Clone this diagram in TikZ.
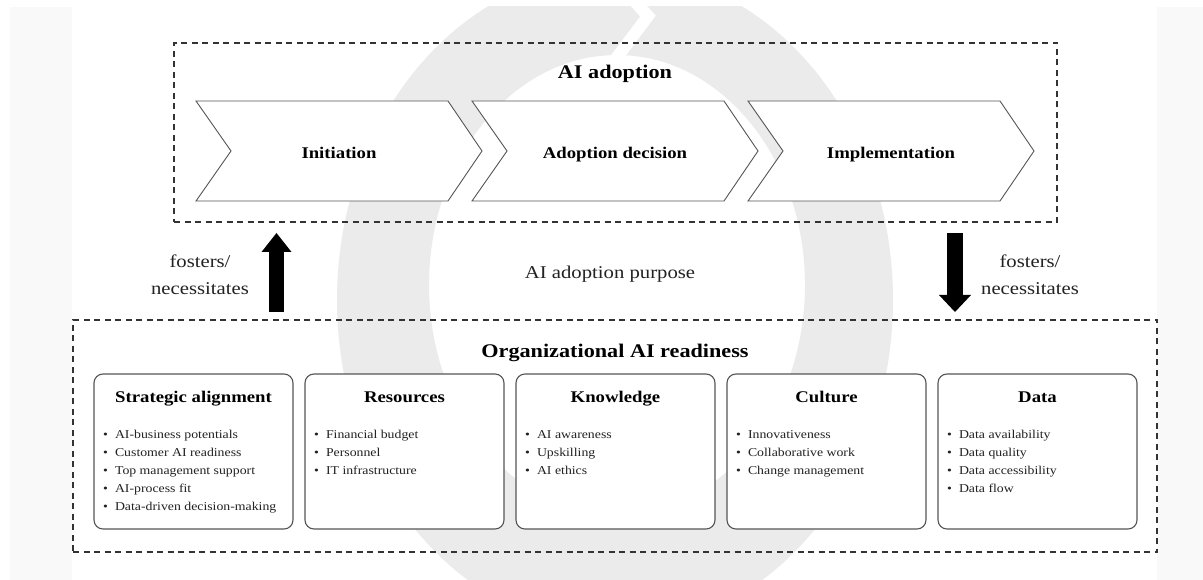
\documentclass[tikz,border=0pt]{standalone}
\usepackage{fontspec}
\setmainfont{Liberation Serif}[FakeStretch=1.15]
\usetikzlibrary{arrows.meta}
\definecolor{ringgrey}{HTML}{EBEBEB}
\definecolor{framegrey}{HTML}{F9F9F9}
\definecolor{ink}{HTML}{222222}
\definecolor{edgegrey}{HTML}{555555}
\definecolor{dashgrey}{HTML}{333333}
\begin{document}
\begin{tikzpicture}[x=1pt,y=-1pt,
  dashbox/.style={draw=dashgrey, line width=1.6pt, dash pattern=on 6pt off 4.5pt, inner sep=0pt},
  chev/.style={draw=edgegrey, fill=white, line width=0.9pt, line join=miter},
  card/.style={draw=edgegrey, fill=white, line width=1.1pt, rounded corners=9pt, inner sep=0pt},
  bigtitle/.style={font=\bfseries\fontsize{19.3}{23}\selectfont, text=black, inner sep=0pt},
  steplabel/.style={font=\bfseries\fontsize{16.3}{20}\selectfont, text=black, inner sep=0pt},
  cardtitle/.style={font=\bfseries\fontsize{16.3}{20}\selectfont, text=black, inner sep=0pt, anchor=base},
  itemlist/.style={font=\fontsize{12}{18}\selectfont, text=ink, inner sep=0pt, anchor=base west},
  plaintext/.style={font=\fontsize{18}{27}\selectfont, text=ink, inner sep=0pt, align=center},
  bigarrow/.style={draw=black, line width=15pt},
]
\useasboundingbox (0,0) rectangle (1203,580);
% background
\fill[framegrey] (10,7) rectangle (1203,580);
\fill[white] (72,7) rectangle (1157,580);
\begin{scope}
  \clip (72,7) rectangle (1157,580);
  \fill[ringgrey, even odd rule] (615,300) ellipse [x radius=278, y radius=330]
                                 (617,285) ellipse [x radius=188, y radius=230];
  \draw[white, line width=12pt, line join=miter] (626,-8) -- (648,16) -- (612,64);
\end{scope}

% AI adoption box
\node[dashbox, minimum width=883pt, minimum height=179pt] (adopt) at (615.5,132.5) {};
\node[bigtitle, anchor=base] (adoptT) at (615,79) {AI adoption};

\foreach \x/\n/\t in {196/init/Initiation, 472/adec/Adoption decision, 748/impl/Implementation} {
  \draw[chev] (\x,101) -- (\x+252,101) -- (\x+286,151) -- (\x+252,201) -- (\x,201) -- (\x+35,151) -- cycle;
  \node[steplabel, anchor=base] (\n) at (\x+143,159) {\t};
}

% readiness box
\node[dashbox, minimum width=1084pt, minimum height=232pt] (ready) at (615,436) {};
\node[bigtitle, anchor=base] (readyT) at (615,357) {Organizational AI readiness};

% arrows and labels
\coordinate (upS) at (276.5,312);
\coordinate (upE) at (276.5,233);
\draw[bigarrow, -{Triangle[width=30pt,length=19pt,line width=0pt]}] (upS) -- (upE);
\coordinate (dnS) at (955,233);
\coordinate (dnE) at (955,312);
\draw[bigarrow, line width=16pt, -{Triangle[width=32pt,length=17pt,line width=0pt]}] (dnS) -- (dnE);

\node[plaintext] (fosL) at (200,275) {fosters/\\necessitates};
\node[plaintext] (fosR) at (1030,275) {fosters/\\necessitates};
\node[plaintext, anchor=base] (purpose) at (610,279) {AI adoption purpose};

% cards
\node[card, minimum width=199pt, minimum height=155pt] (c1) at (193.5,451.5) {};
\node[card, minimum width=199pt, minimum height=155pt] (c2) at (404.5,451.5) {};
\node[card, minimum width=199pt, minimum height=155pt] (c3) at (615.5,451.5) {};
\node[card, minimum width=199pt, minimum height=155pt] (c4) at (826.5,451.5) {};
\node[card, minimum width=199pt, minimum height=155pt] (c5) at (1037.5,451.5) {};

\node[cardtitle] (t1) at (193.5,402) {Strategic alignment};
\node[cardtitle] (t2) at (404.5,402) {Resources};
\node[cardtitle] (t3) at (615.5,402) {Knowledge};
\node[cardtitle] (t4) at (826.5,402) {Culture};
\node[cardtitle] (t5) at (1037.5,402) {Data};

\node[itemlist] (l1) at (103,438) {\begin{tabular}[t]{@{}l@{\hspace{7pt}}l@{}}
  • & AI-business potentials\\ • & Customer AI readiness\\ • & Top management support\\
  • & AI-process fit\\ • & Data-driven decision-making\end{tabular}};
\node[itemlist] (l2) at (314,438) {\begin{tabular}[t]{@{}l@{\hspace{7pt}}l@{}}
  • & Financial budget\\ • & Personnel\\ • & IT infrastructure\end{tabular}};
\node[itemlist] (l3) at (525,438) {\begin{tabular}[t]{@{}l@{\hspace{7pt}}l@{}}
  • & AI awareness\\ • & Upskilling\\ • & AI ethics\end{tabular}};
\node[itemlist] (l4) at (736,438) {\begin{tabular}[t]{@{}l@{\hspace{7pt}}l@{}}
  • & Innovativeness\\ • & Collaborative work\\ • & Change management\end{tabular}};
\node[itemlist] (l5) at (947,438) {\begin{tabular}[t]{@{}l@{\hspace{7pt}}l@{}}
  • & Data availability\\ • & Data quality\\ • & Data accessibility\\ • & Data flow\end{tabular}};
\end{tikzpicture}
\end{document}
